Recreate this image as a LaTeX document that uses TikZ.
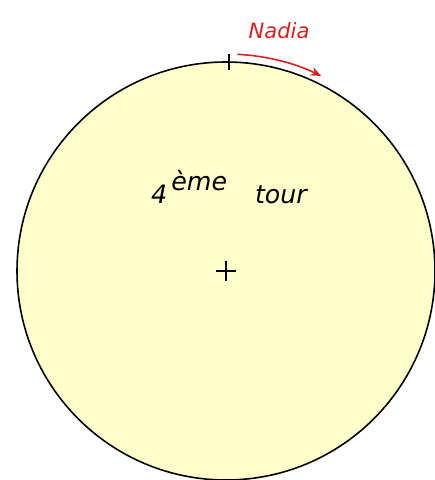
\documentclass[tikz,border=0pt]{standalone}
\usepackage{fontspec}
\setsansfont{DejaVu Sans}
\usepackage{xcolor}
\usetikzlibrary{arrows.meta}
\definecolor{pistefill}{HTML}{FFFFCC}
\definecolor{coureur}{HTML}{D42020}

\tikzset{
  piste/.style={fill=pistefill, draw=black, line width=0.9pt},
  repere/.style={draw=black, line width=0.9pt},
  sens/.style={draw=coureur, line width=0.9pt, -{Stealth[length=6pt, width=5pt]}},
}

\begin{document}
\begin{tikzpicture}[x=0.02cm, y=0.02cm]
  \useasboundingbox (0,0) rectangle (435,480);
  % la piste
  \coordinate (centre) at (226,209);
  \path[piste] (centre) circle [radius=209];
  % croix au centre et depart
  \draw[repere] ([xshift=-0.2cm]centre) -- ([xshift=0.2cm]centre);
  \draw[repere] ([yshift=-0.2cm]centre) -- ([yshift=0.2cm]centre);
  \coordinate (depart) at (229,418);
  \draw[repere] ([yshift=0.16cm]depart) -- ([yshift=-0.16cm]depart);
  % sens de la course
  \draw[sens] ([shift={(87:217)}]centre) arc [start angle=87, end angle=64, radius=217];
  \node[text=coureur, font=\sffamily\itshape\large] (nadia) at (279,449) {Nadia};
  \node[font=\sffamily\itshape\Large] (tour) at (229,293) {4\,\raisebox{1.0ex}{ème}\hspace{1.1em}tour};
\end{tikzpicture}
\end{document}
